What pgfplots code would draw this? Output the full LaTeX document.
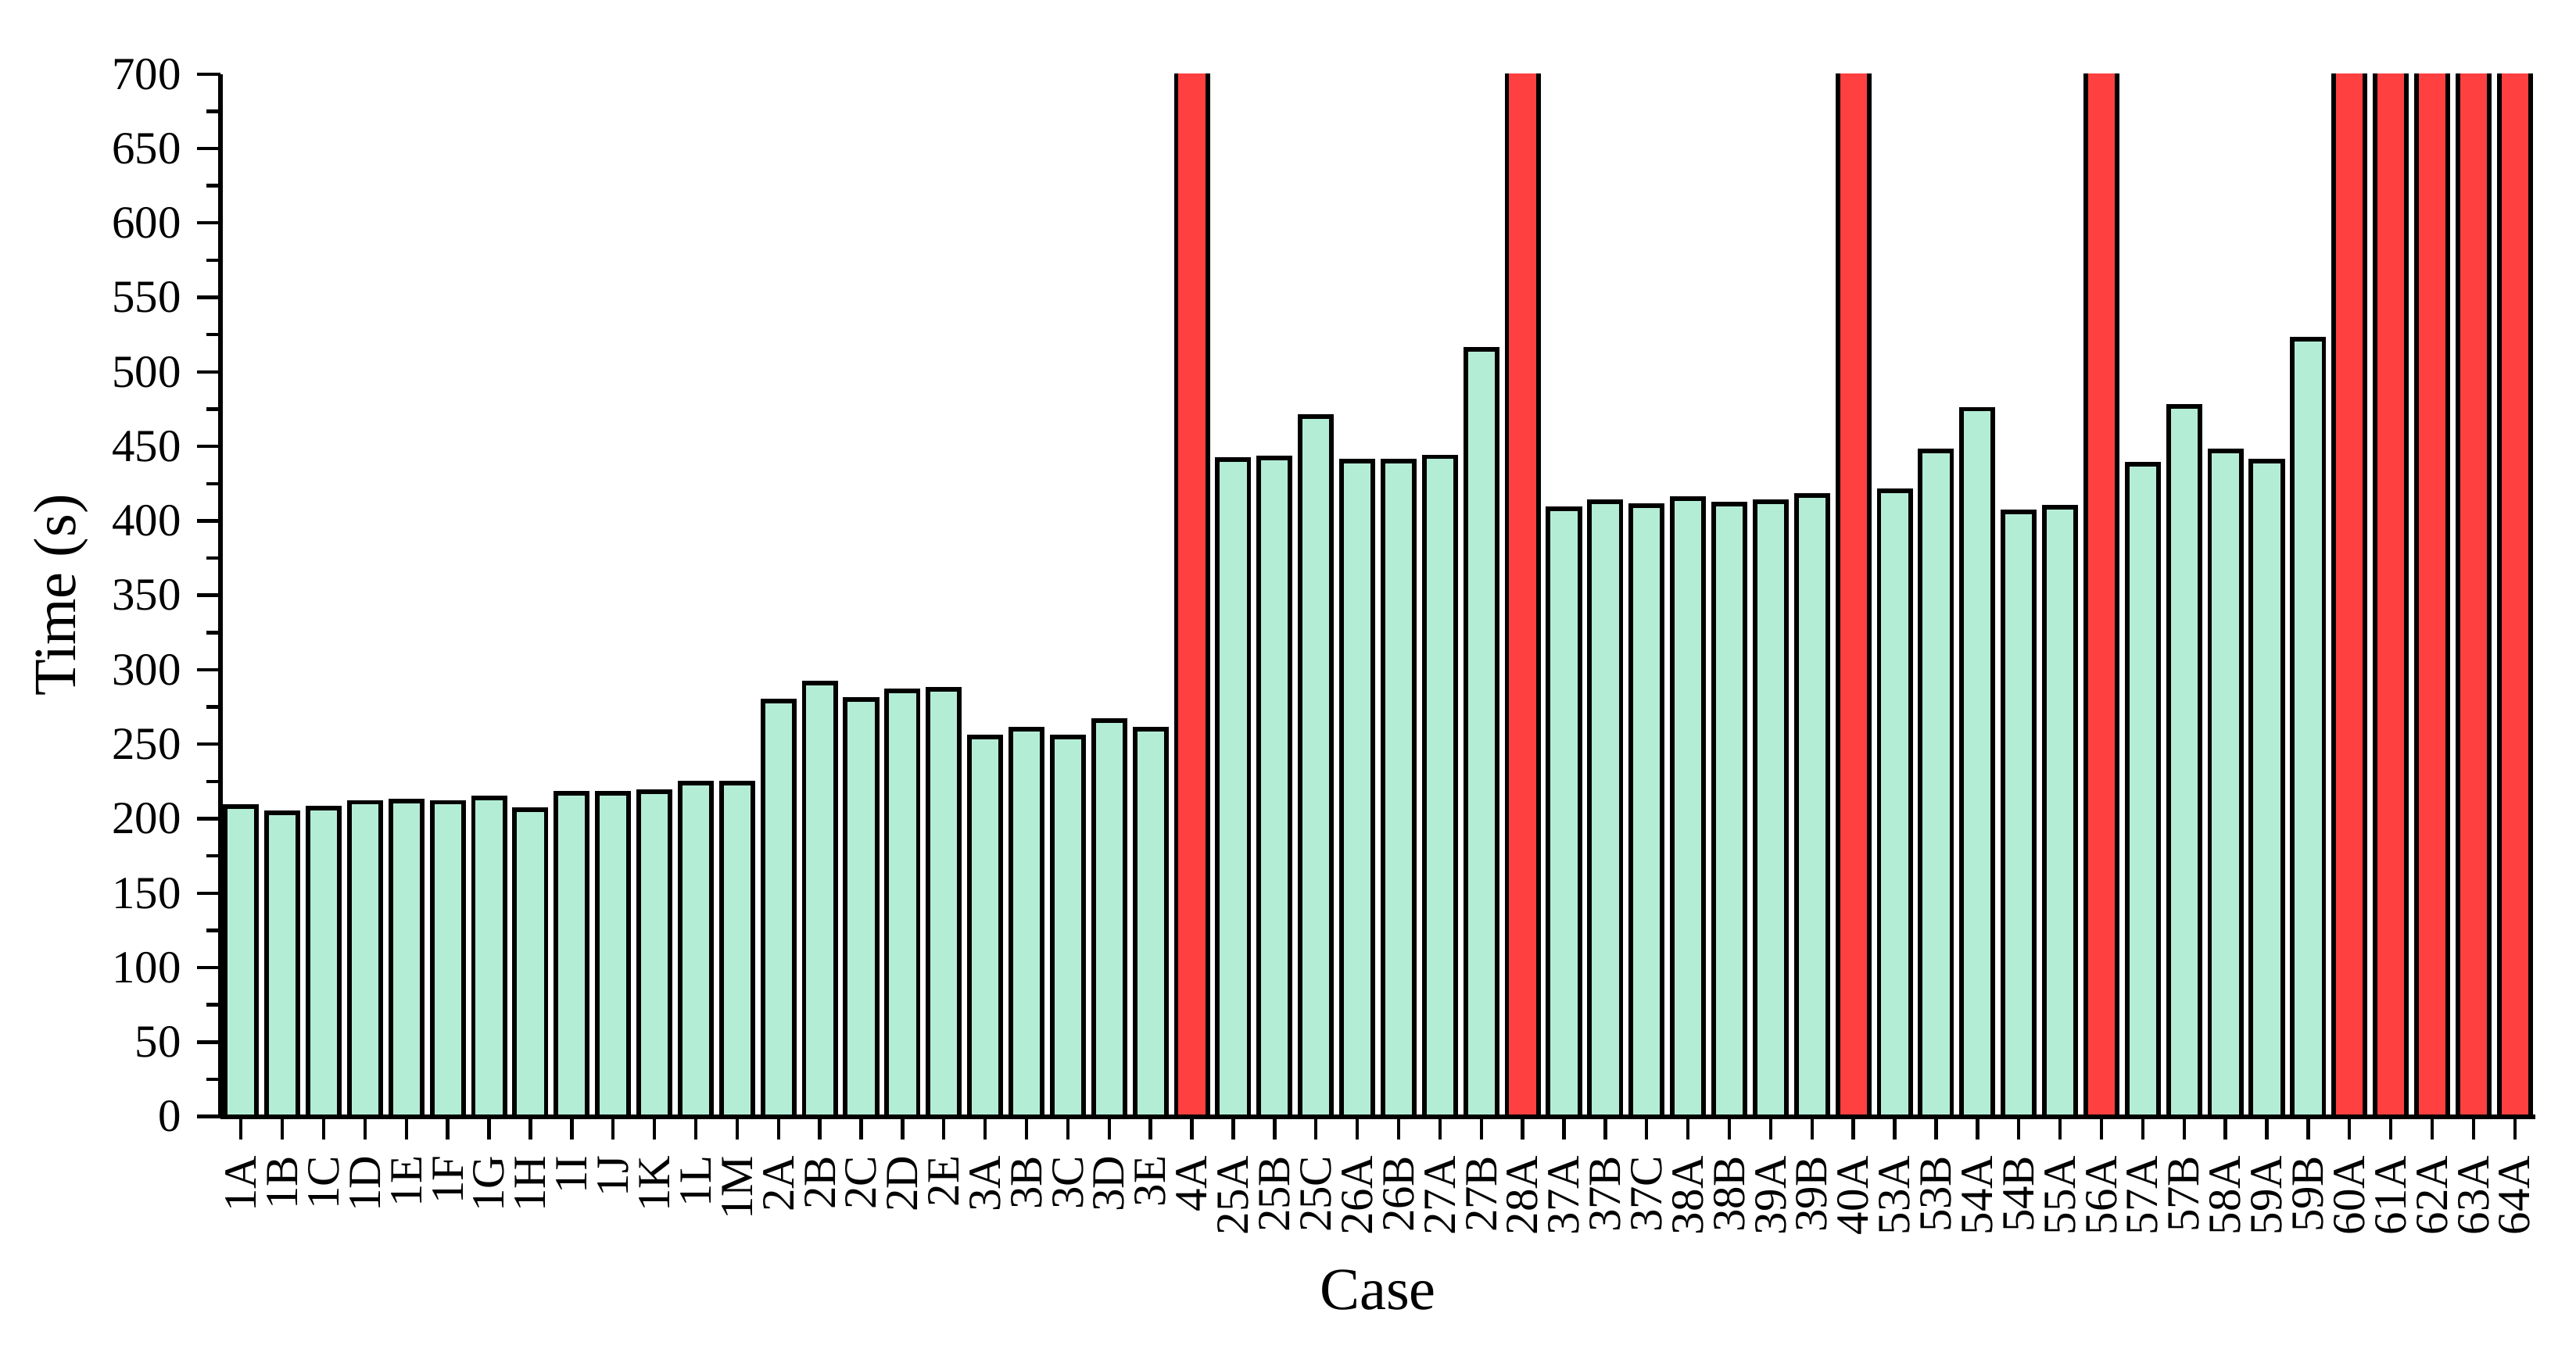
\documentclass[border=0pt]{standalone}
\usepackage{fontspec}
\setmainfont{Liberation Serif}
\usepackage{pgfplots}
\pgfplotsset{compat=1.18}
\definecolor{barg}{RGB}{180,237,214}
\definecolor{barr}{RGB}{255,64,64}
\begin{document}
\begin{tikzpicture}
\path[use as bounding box] (-47.9pt,-52pt) rectangle (512.1pt,242.8pt);
\begin{axis}[
  scale only axis,
  width=503.3pt, height=226.7pt,
  xmin=-0.5, xmax=55.5,
  ymin=0, ymax=700,
  axis x line*=bottom, axis y line*=left,
  axis line style={-, line width=1pt},
  xtick={0,...,55},
  xticklabels={1A,1B,1C,1D,1E,1F,1G,1H,1I,1J,1K,1L,1M,2A,2B,2C,2D,2E,3A,3B,3C,3D,3E,4A,25A,25B,25C,26A,26B,27A,27B,28A,37A,37B,37C,38A,38B,39A,39B,40A,53A,53B,54A,54B,55A,56A,57A,57B,58A,59A,59B,60A,61A,62A,63A,64A},
  ytick={0,50,...,700},
  minor y tick num=1,
  tick align=outside,
  major tick length=5pt,
  minor tick length=3pt,
  tick style={line width=0.75pt, black},
  /pgf/number format/assume math mode=true,
  x tick label style={rotate=90, anchor=east, font=\fontsize{10}{12}\selectfont},
  y tick label style={font=\fontsize{10}{12}\selectfont},
  xlabel={Case},
  ylabel={Time (s)},
  xlabel style={at={(axis description cs:0.5,-0.1663)}, anchor=center, font=\fontsize{13}{15}\selectfont},
  ylabel style={at={(axis description cs:-0.0688,0.5)}, anchor=center, font=\fontsize{13}{15}\selectfont},
]
\addplot[ybar, bar width=0.76, fill=barg, draw=black, line width=1pt] coordinates {
(0,208) (1,204) (2,207) (3,211) (4,212) (5,211) (6,214) (7,206) (8,217) (9,217)
(10,218) (11,224) (12,224) (13,279) (14,291) (15,280) (16,286) (17,287) (18,255) (19,260)
(20,255) (21,266) (22,260) (24,441) (25,442) (26,470) (27,440) (28,440) (29,443) (30,515)
(32,408) (33,413) (34,410) (35,415) (36,411) (37,413) (38,417)
(40,420) (41,447) (42,475) (43,406) (44,409)
(46,438) (47,477) (48,447) (49,440) (50,522)
};
\addplot[ybar, bar width=0.76, fill=barr, draw=black, line width=1pt] coordinates {
(23,800) (31,800) (39,800) (45,800) (51,800) (52,800) (53,800) (54,800) (55,800)
};
\end{axis}
\end{tikzpicture}
\end{document}
